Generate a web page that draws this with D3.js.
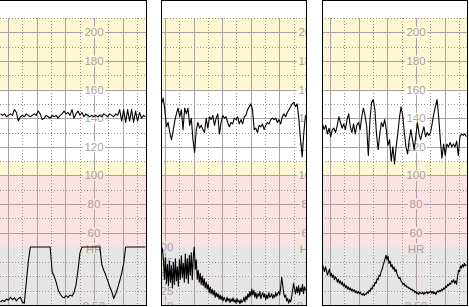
<!DOCTYPE html>
<html><head><meta charset="utf-8">
<script src="https://cdn.jsdelivr.net/npm/d3@7"></script>
<style>html,body{margin:0;padding:0;background:#fff;}svg{display:block;}</style>
</head><body>
<svg id="c" width="469" height="307"></svg>
<script>
// ---------- DATA ----------
const fhrTicks = [200, 180, 160, 140, 120, 100, 80, 60];
const grayTicks = ["100", "75", "50", "25", "0"];
const grayTickValues = [100, 75, 50, 25, 0];
const fhrBands = [[210, 160], [160, 110], [110, 100], [100, 50]];
const grayTitle = "HR";
const grayScaleLabel = "0.50";

const fhr1 = [143,142,143,141,142,143,142,146,144,138,
  141,142,141,143,142,141,142,143,142,145,
  143,139,140,142,141,140,142,141,142,140,
  142,143,145,143,144,142,146,140,143,145,
  142,144,141,143,142,141,142,141,142,141,
  142,141,143,142,141,143,142,141,143,142,
  146,138,146,137,146,138,146,137,145,138,
  144,140,142,141];
const lower1 = [6,9,7,11,9,14,10,13,8,12,14,6,4,
  40,75,
  100,100,100,100,100,100,100,100,100,100,100,
  58,50,40,27,20,15,13,17,14,18,16,22,35,60,90,
  100,100,100,100,100,100,100,100,100,100,
  70,60,52,42,32,24,12,20,30,42,55,72,
  100,100,100,100,100,100,100,100,100,100,100];

const fhr2 = [150,154,146,134,137,130,125,131,138,143,
  147,141,146,132,147,143,147,135,140,125,
  116,132,137,133,135,132,130,140,133,141,
  139,142,135,140,143,129,137,142,140,141,
  137,134,137,136,140,139,141,136,139,136,
  141,142,146,148,150,146,132,133,130,135,
  134,136,132,135,137,136,139,140,139,140,
  137,139,136,141,143,141,144,146,148,150,
  151,148,150,139,125,113,130,142];
const lower2 = [100,96,78,45,82,38,70,34,76,40,
  68,30,74,36,80,42,66,33,78,45,
  85,48,72,40,88,46,80,38,86,52,
  90,44,84,100,62,78,45,60,40,55,
  36,50,34,46,30,40,28,36,22,32,
  20,28,18,26,14,22,15,20,11,18,
  10,16,8,14,10,6,14,8,12,5,
  11,7,13,6,10,4,12,6,9,3,
  10,5,8,14,6,16,10,20,14,24,
  16,28,18,26,14,22,12,20,16,24,
  12,18,22,14,20,10,18,12,22,14,
  16,20,12,18,14,22,16,20,24,18,
  30,48,36,22,14,18,8,12,4,10,
  6,14,26,38,28,20,32,22,34,18,
  30,24,36,20,32,26];

const fhr3 = [136,132,135,129,133,127,132,133,130,135,
  141,137,133,136,132,139,143,134,130,136,
  129,135,137,132,141,147,142,134,114,139,
  151,153,146,129,118,129,137,134,139,132,
  121,125,110,120,108,120,129,140,148,142,
  130,120,115,125,132,125,118,127,137,129,
  125,130,134,127,130,128,130,136,143,148,
  153,141,125,112,122,114,122,120,123,120,
  122,120,124,114,127,129,128,129,127];
const lower3 = [70,64,58,66,60,52,57,62,50,55,
  48,52,44,49,46,40,45,38,42,36,
  40,33,37,31,34,28,32,27,30,25,
  28,24,27,22,25,21,24,20,23,19,
  18,21,17,20,19,23,21,26,24,30,
  28,35,33,40,38,46,44,52,50,58,
  62,68,74,80,86,78,84,72,76,66,
  70,62,66,58,62,54,50,46,48,42,
  40,36,38,33,35,31,32,29,30,27,
  28,25,26,22,24,20,22,19,23,21,
  20,23,19,22,21,24,20,23,22,25,
  21,24,20,23,19,22,25,23,26,24,
  28,26,30,28,33,31,36,34,38,36,
  42,40,44,38,42,36,50,60,58,68,
  64,70,66,72,68,70];

// panel time windows (minutes) and label positions (minutes)
const panelStarts = [1.716, 9.864, 21.716];
const panelLabelTimes = [5, 15, 25];
const panelGrayLabelTimes = [null, 10, null];
const fhrSeries = [fhr1, fhr2, fhr3];
const lowerSeries = [lower1, lower2, lower3];

// ---------- LAYOUT / STYLE ----------
const svg = d3.select('#c');
const pxPerMin = 28.62;
const panelBox = [
  {left: 0, right: 146, leftBorder: false},
  {left: 161, right: 306, leftBorder: true},
  {left: 322, right: 467, leftBorder: true}
];
const TOP = 0.5, BOTTOM = 305.5;
const yF = d3.scaleLinear().domain([50, 210]).range([247, 18]);
const yG = d3.scaleLinear().domain([0, 100]).range([305.5, 247]);
const bandColors = ['#fdf8d3', '#ffffff', '#fdf8d3', '#fbe2e2'];
const grayColor = '#e5e5e5';
const solidColor = '#ab9fa2';
const dotColor = '#9c978a';
const labelColor = '#ad9f9c';
const FONT = '"Liberation Sans", Arial, sans-serif';

panelBox.forEach((p, pi) => {
  const w = p.right - p.left;
  const defs = svg.append('defs');
  const clipId = 'clip' + pi;
  const ix = p.left + (p.leftBorder ? 1 : 0);
  defs.append('clipPath').attr('id', clipId).append('rect')
    .attr('x', ix).attr('y', 1).attr('width', p.right - ix).attr('height', BOTTOM - 1);
  const g = svg.append('g').attr('clip-path', `url(#${clipId})`);
  const start = panelStarts[pi];
  const xT = d3.scaleLinear().domain([start, start + w / pxPerMin]).range([p.left, p.right]);

  function drawBands(sel) {
    sel.selectAll('rect.fb').data(fhrBands).join('rect').attr('class', 'fb')
      .attr('x', p.left).attr('width', w)
      .attr('y', d => yF(d[0])).attr('height', d => yF(d[1]) - yF(d[0]))
      .attr('fill', (d, i) => bandColors[i]);
    sel.append('rect').attr('x', p.left).attr('width', w)
      .attr('y', yG(100)).attr('height', yG(0) - yG(100) + 3).attr('fill', grayColor);
  }
  drawBands(g.append('g'));

  // horizontal grid
  const hVals = d3.range(60, 211, 10);
  const grid = g.append('g');
  grid.selectAll('line.h').data(hVals).join('line').attr('class', 'h')
    .attr('x1', p.left).attr('x2', p.right)
    .attr('y1', d => Math.round(yF(d)) + 0.5).attr('y2', d => Math.round(yF(d)) + 0.5)
    .attr('stroke', d => d % 20 === 0 ? solidColor : dotColor)
    .attr('stroke-dasharray', d => d % 20 === 0 ? null : '1,2');
  grid.selectAll('line.hg').data([75, 50, 25]).join('line').attr('class', 'hg')
    .attr('x1', p.left).attr('x2', p.right)
    .attr('y1', d => Math.round(yG(d)) + 0.5).attr('y2', d => Math.round(yG(d)) + 0.5)
    .attr('stroke', dotColor).attr('stroke-dasharray', '1,2');
  // vertical grid
  const t0 = Math.ceil(start * 2) / 2, t1 = start + w / pxPerMin;
  const vT = d3.range(t0, t1 + 0.001, 0.5);
  grid.selectAll('line.v').data(vT).join('line').attr('class', 'v')
    .attr('x1', d => Math.round(xT(d)) + 0.5).attr('x2', d => Math.round(xT(d)) + 0.5)
    .attr('y1', 18).attr('y2', BOTTOM)
    .attr('stroke', d => Math.abs(d - Math.round(d)) < 1e-6 ? solidColor : dotColor)
    .attr('stroke-dasharray', d => Math.abs(d - Math.round(d)) < 1e-6 ? null : '1,2');

  // label backgrounds (band copy clipped to label boxes), then labels
  const bgClipId = 'lblclip' + pi;
  const bg = g.append('g').attr('clip-path', `url(#${bgClipId})`);
  drawBands(bg);
  const labels = g.append('g').attr('font-family', FONT).attr('font-size', 11.5)
    .attr('fill', labelColor);
  const lx = xT(panelLabelTimes[pi]);
  const lblData = fhrTicks.map(v => ({t: String(v), x: lx, y: yF(v) + 4, a: 'middle'}));
  lblData.push({t: grayTitle, x: lx, y: yG(97) + 4, a: 'middle'});
  lblData.push({t: grayScaleLabel, x: lx, y: 310.2, a: 'middle'});
  if (panelGrayLabelTimes[pi] !== null) {
    const gx = xT(panelGrayLabelTimes[pi]) + 8.5;
    grayTicks.forEach((t, i) => lblData.push({t, x: gx, y: yG(grayTickValues[i]) + 4, a: 'end'}));
  }
  const texts = labels.selectAll('text').data(lblData).join('text')
    .attr('x', d => d.x).attr('y', d => d.y).attr('text-anchor', d => d.a).text(d => d.t);
  const cp = defs.append('clipPath').attr('id', bgClipId);
  texts.each(function (d) {
    const b = this.getBBox();
    cp.append('rect').attr('x', b.x - 1.5).attr('y', d.y - 9.5)
      .attr('width', b.width + 3).attr('height', 11);
  });

  // traces
  const fd = fhrSeries[pi];
  const xiF = d3.scaleLinear().domain([0, fd.length - 1]).range([p.left + 0.5, p.right - 0.5]);
  g.append('path').datum(fd)
    .attr('d', d3.line().x((d, i) => xiF(i)).y(d => yF(d)))
    .attr('fill', 'none').attr('stroke', '#000').attr('stroke-width', 1.1)
    .attr('stroke-linejoin', 'round');
  const ld = lowerSeries[pi];
  const xiL = d3.scaleLinear().domain([0, ld.length - 1]).range([p.left + 0.5, p.right - 0.5]);
  g.append('path').datum(ld)
    .attr('d', d3.line().x((d, i) => xiL(i)).y(d => yG(d)))
    .attr('fill', 'none').attr('stroke', '#000').attr('stroke-width', 1.1)
    .attr('stroke-linejoin', 'round');

  // borders
  const b = svg.append('g').attr('stroke', '#000').attr('stroke-width', 1);
  b.append('line').attr('x1', p.left).attr('x2', p.right + 1).attr('y1', TOP).attr('y2', TOP);
  b.append('line').attr('x1', p.left).attr('x2', p.right + 1).attr('y1', BOTTOM).attr('y2', BOTTOM);
  b.append('line').attr('x1', p.right + 0.5).attr('x2', p.right + 0.5).attr('y1', 0).attr('y2', BOTTOM + 0.5);
  if (p.leftBorder) {
    b.append('line').attr('x1', p.left + 0.5).attr('x2', p.left + 0.5).attr('y1', 0).attr('y2', BOTTOM + 0.5);
  }
});
</script>
</body></html>
